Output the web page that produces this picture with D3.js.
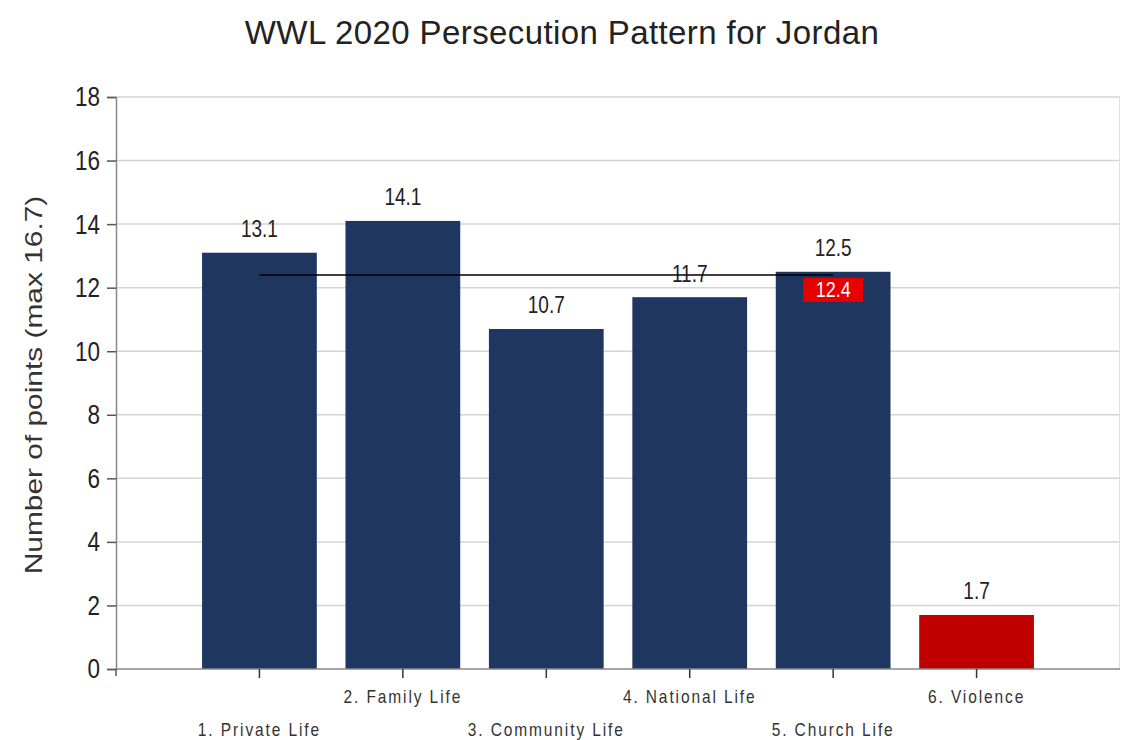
<!DOCTYPE html>
<html>
<head>
<meta charset="utf-8">
<script src="https://cdn.jsdelivr.net/npm/d3@7"></script>
<style>
  body { margin: 0; background: #fff; }
  svg { font-family: 'Liberation Sans', Arial, sans-serif; }
</style>
</head>
<body>
<svg id="chart"></svg>
<script>
const categories = ['1. Private Life', '2. Family Life', '3. Community Life', '4. National Life', '5. Church Life', '6. Violence']
const scores = [13.1, 14.1, 10.7, 11.7, 12.5, 1.7]
const averageScore = 12.4
const yTicks = [0, 2, 4, 6, 8, 10, 12, 14, 16, 18]

const width = 1121
const height = 740
const margin = { top: 97, bottom: 71, left: 116, right: 1 }
// the source picture is stretched vertically, so text is too
const stretch = 1.24

const svg = d3.select('#chart')
  .attr('width', width)
  .attr('height', height)

const step = (width - margin.left - margin.right) / (categories.length + 1)

const xScale = d3
  .scaleBand()
  .domain(categories)
  .range([margin.left + step / 2, width - margin.right - step / 2])
  .paddingInner(0.2)
  .paddingOuter(0.1)

const yScale = d3
  .scaleLinear()
  .domain([0, 18])
  .range([height - margin.bottom, margin.top])

// gridlines
svg.append('g')
  .selectAll('line')
  .data(yTicks.filter(d => d > 0))
  .enter()
  .append('line')
  .attr('x1', margin.left)
  .attr('x2', width - margin.right)
  .attr('y1', d => yScale(d))
  .attr('y2', d => yScale(d))
  .attr('stroke', '#d4d4d4')
  .attr('stroke-width', 1.5)

svg.append('line')
  .attr('x1', width - margin.right - 0.5)
  .attr('x2', width - margin.right - 0.5)
  .attr('y1', margin.top)
  .attr('y2', height - margin.bottom)
  .attr('stroke', '#e0e0e0')

// bars
svg.append('g')
  .selectAll('rect')
  .data(scores)
  .enter()
  .append('rect')
  .attr('x', (d, i) => xScale(categories[i]))
  .attr('y', d => yScale(d))
  .attr('width', xScale.bandwidth())
  .attr('height', d => yScale(0) - yScale(d))
  .attr('fill', (d, i) => i === 5 ? '#c00000' : '#1f3660')

// value labels
svg.append('g')
  .selectAll('text')
  .data(scores)
  .enter()
  .append('text')
  .attr('transform', (d, i) =>
    `translate(${xScale(categories[i]) + xScale.bandwidth() / 2}, ${yScale(d) - 15.5}) scale(1, ${stretch})`)
  .attr('text-anchor', 'middle')
  .attr('font-size', 19)
  .attr('fill', '#222')
  .text(d => d.toFixed(1))

// average line
const first = xScale(categories[0]) + xScale.bandwidth() / 2
const last = xScale(categories[4]) + xScale.bandwidth() / 2
svg.append('line')
  .attr('x1', first)
  .attr('x2', last)
  .attr('y1', yScale(averageScore))
  .attr('y2', yScale(averageScore))
  .attr('stroke', '#000')
  .attr('stroke-width', 1.5)

const avgLabel = svg.append('g')
  .attr('transform', `translate(${last}, ${yScale(averageScore) + 15})`)
avgLabel.append('rect')
  .attr('x', -30)
  .attr('y', -12)
  .attr('width', 60)
  .attr('height', 24)
  .attr('fill', '#e60000')
avgLabel.append('text')
  .attr('transform', `translate(0, 7.5) scale(1, ${stretch})`)
  .attr('text-anchor', 'middle')
  .attr('font-size', 18)
  .attr('fill', '#fff')
  .text(averageScore.toFixed(1))

// y axis
const yAxis = d3
  .axisLeft()
  .scale(yScale)
  .tickValues(yTicks)
  .tickSize(9)
  .tickPadding(7)

const yG = svg.append('g')
  .attr('transform', `translate(${margin.left}, 0)`)
  .call(yAxis)
yG.select('.domain').attr('stroke', '#888').attr('stroke-width', 1.5)
yG.selectAll('.tick line').attr('stroke', '#555').attr('stroke-width', 1.5)
yG.selectAll('.tick text')
  .attr('font-size', 22.5)
  .attr('fill', '#222')
  .attr('font-family', "'Liberation Sans', Arial, sans-serif")
  .attr('transform', `scale(1, ${stretch})`)

// x axis
const xAxis = d3
  .axisBottom()
  .scale(xScale)
  .tickSize(9)
  .tickSizeOuter(0)
  .tickFormat('')

const xG = svg.append('g')
  .attr('transform', `translate(0, ${height - margin.bottom})`)
  .call(xAxis)
xG.select('.domain')
  .attr('d', `M${margin.left},0H${width - margin.right}`)
  .attr('stroke', '#888')
  .attr('stroke-width', 1.5)
xG.selectAll('.tick line').attr('stroke', '#333').attr('stroke-width', 1.5)
xG.selectAll('.tick')
  .append('text')
  .attr('transform', (d, i) => `translate(0, ${i % 2 === 0 ? 67 : 34}) scale(1, ${stretch})`)
  .attr('text-anchor', 'middle')
  .attr('font-size', 15.5)
  .attr('letter-spacing', 1.9)
  .attr('fill', '#333')
  .text(d => d)

// corner tick below origin
svg.append('line')
  .attr('x1', margin.left)
  .attr('x2', margin.left)
  .attr('y1', height - margin.bottom)
  .attr('y2', height - margin.bottom + 7)
  .attr('stroke', '#555')
  .attr('stroke-width', 1.5)

// y label
svg.append('text')
  .attr('transform', `translate(42, 385) rotate(-90) scale(1.3, 1)`)
  .attr('text-anchor', 'middle')
  .attr('font-size', 23)
  .attr('fill', '#333')
  .text('Number of points (max 16.7)')

// title
svg.append('text')
  .attr('x', 562)
  .attr('y', 44)
  .attr('text-anchor', 'middle')
  .attr('font-size', 33)
  .attr('letter-spacing', 0.4)
  .attr('fill', '#222')
  .text('WWL 2020 Persecution Pattern for Jordan')
</script>
</body>
</html>
